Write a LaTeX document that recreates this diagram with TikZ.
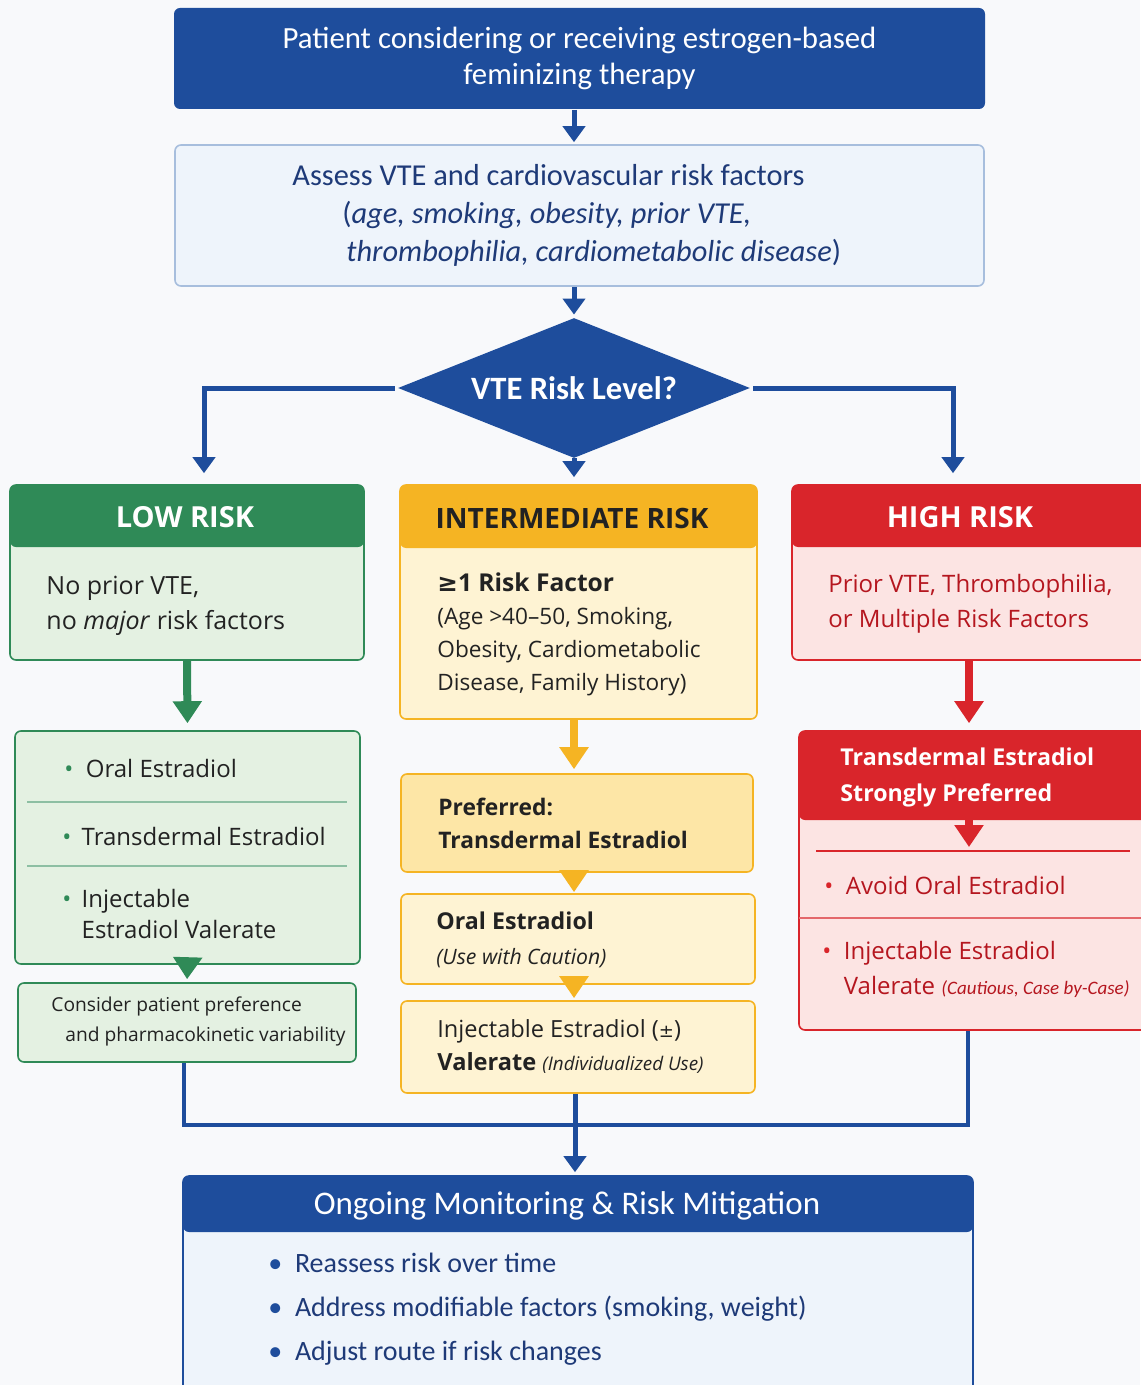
\documentclass[tikz,border=0pt]{standalone}
\usepackage{fontspec}
\usepackage{xcolor}
\setmainfont{Open Sans}
\newfontfamily\condfont{Carlito}
\newfontfamily\symfont{DejaVu Sans}
\usetikzlibrary{shapes.geometric}
\usetikzlibrary{positioning, arrows.meta}

\definecolor{pagebg}{HTML}{F8F9FB}
\definecolor{navy}{HTML}{1E4D9C}
\definecolor{bluetext}{HTML}{1E3A78}
\definecolor{assessfill}{HTML}{EEF4FB}
\definecolor{assessline}{HTML}{A7BEDD}
\definecolor{lowgreen}{HTML}{2F8A57}
\definecolor{lowfill}{HTML}{E4F1E2}
\definecolor{intorange}{HTML}{F5B423}
\definecolor{intfill}{HTML}{FEF3D3}
\definecolor{preffill}{HTML}{FDE6A6}
\definecolor{highred}{HTML}{D9252B}
\definecolor{highfill}{HTML}{FCE4E3}
\definecolor{redtext}{HTML}{B5161F}
\definecolor{darktext}{HTML}{222222}

\newcommand{\gbul}{\textcolor{lowgreen}{\textbullet}}
\newcommand{\rbul}{\textcolor{highred}{\textbullet}}
\newcommand{\bbul}{\textcolor{navy}{\textbullet}}

\begin{document}
\begin{tikzpicture}[x=0.5pt, y=-0.5pt,
    box/.style={rectangle, rounded corners=3pt, inner sep=0pt, line width=0.8pt},
    headbox/.style n args={3}{box, draw=#1, fill=#2,
        path picture={\fill[#1] (path picture bounding box.north west) rectangle ([yshift=-#3]path picture bounding box.north east);}},
    headtxt/.style={inner sep=0pt, text=white, font=\fontsize{14.5}{17}\selectfont\bfseries},
    bodytxt/.style={inner sep=0pt, anchor=west, align=left, text=darktext, font=\fontsize{12}{17.5}\selectfont},
    bluearr/.style={draw=navy, line width=2.5pt, -{Triangle[width=11pt, length=8pt]}},
    blueline/.style={draw=navy, line width=2pt},
    greenarr/.style={draw=lowgreen, line width=4pt, -{Triangle[width=14pt, length=11pt]}},
    orangearr/.style={draw=intorange, line width=4pt, -{Triangle[width=14pt, length=11pt]}},
    redarr/.style={draw=highred, line width=4pt, -{Triangle[width=14pt, length=11pt]}}]

    % Background
    \fill[pagebg] (0,0) rectangle (1140,1385);
    \useasboundingbox (0,0) rectangle (1140,1385);

    % Nodes
    \node[box, fill=navy, minimum width=405.5pt, minimum height=50.5pt, text=white, align=center,
          font=\condfont\fontsize{15.4}{18}\selectfont] (start) at (579.5,58.5)
          {Patient considering or receiving estrogen-based\\feminizing therapy};

    \node[box, draw=assessline, fill=assessfill, minimum width=404.5pt, minimum height=70.5pt] (assess) at (579.5,215.5) {};
    \node[bodytxt, text=bluetext, font=\condfont\fontsize{15.2}{19}\selectfont] (assesstxt) at (292,215.5)
          {Assess VTE and cardiovascular risk factors\\
           \hspace*{25pt}(\textit{age, smoking, obesity, prior VTE,}\\
           \hspace*{27pt}\textit{thrombophilia, cardiometabolic disease})};

    \node[diamond, aspect=2.5, fill=navy, minimum width=176pt, minimum height=70pt, inner sep=0pt,
          text=white, font=\condfont\fontsize{16.3}{18}\selectfont\bfseries] (risk) at (574,388) {VTE Risk Level?};

    % Low risk column
    \node[headbox={lowgreen}{lowfill}{31pt}, minimum width=177pt, minimum height=87.5pt] (low) at (187,572.5) {};
    \node[headtxt] (lowtitle) at (185,517) {LOW RISK};
    \node[bodytxt, font=\fontsize{12.5}{17.5}\selectfont] (lowtxt) at (46,605.5) {No prior VTE,\\no \textit{major} risk factors};

    \node[box, draw=lowgreen, fill=lowfill, minimum width=172.5pt, minimum height=116.5pt] (lowlist) at (187.5,847.5) {};
    \node[bodytxt] (lowa) at (64,768) {\gbul\ \ Oral Estradiol};
    \node[bodytxt] (lowb) at (62,836) {\gbul\ \,Transdermal Estradiol};
    \node[bodytxt, font=\fontsize{12}{15.5}\selectfont] (lowc) at (62,913.5) {\gbul\ \,Injectable\\\phantom{\gbul\ \,}Estradiol Valerate};
    \draw[lowgreen!55, line width=0.6pt] (27,802) -- (347,802);
    \draw[lowgreen!55, line width=0.6pt] (27,866) -- (347,866);

    \node[box, draw=lowgreen, fill=lowfill, minimum width=169pt, minimum height=39.5pt] (consider) at (187,1022.5) {};
    \node[bodytxt, font=\fontsize{9.6}{15}\selectfont] (considertxt) at (51,1021)
          {Consider patient preference\\\hspace*{7pt}and pharmacokinetic variability};

    % Intermediate risk column
    \node[headbox={intorange}{intfill}{31.5pt}, minimum width=178.5pt, minimum height=117pt] (int) at (578.5,602) {};
    \node[headtxt, text=darktext, font=\fontsize{14}{17}\selectfont\bfseries] (inttitle) at (572,518) {INTERMEDIATE RISK};
    \node[bodytxt, font=\fontsize{11.3}{16.5}\selectfont] (inttxt) at (437,634)
          {{\fontsize{12.3}{16.5}\selectfont\bfseries{\symfont ≥}1 Risk Factor}\\(Age >40--50, Smoking,\\Obesity, Cardiometabolic\\Disease, Family History)};

    \node[box, draw=intorange, fill=preffill, minimum width=176pt, minimum height=49pt] (pref) at (577,823) {};
    \node[bodytxt, font=\fontsize{11.4}{16.5}\selectfont\bfseries] (preftxt) at (438,823.5) {Preferred:\\Transdermal Estradiol};

    \node[box, draw=intorange, fill=intfill, minimum width=177pt, minimum height=45pt] (oral) at (578,939) {};
    \node[bodytxt] (oraltxt) at (436,940)
          {\textbf{\fontsize{11.6}{15.5}\selectfont Oral Estradiol}\\{\fontsize{10.6}{15.5}\selectfont\textit{(Use with Caution)}}};

    \node[box, draw=intorange, fill=intfill, minimum width=177pt, minimum height=46pt] (inj) at (578,1047) {};
    \node[bodytxt, font=\fontsize{11.8}{16.5}\selectfont] (injtxt) at (437,1046.5)
          {Injectable Estradiol ({\symfont\small ±})\\\textbf{Valerate} {\fontsize{9.4}{10}\selectfont\textit{(Individualized Use)}}};

    % High risk column
    \node[headbox={highred}{highfill}{31pt}, minimum width=178pt, minimum height=87.5pt] (high) at (970,572.5) {};
    \node[headtxt] (hightitle) at (960,517) {HIGH RISK};
    \node[bodytxt, text=redtext] (hightxt) at (828,603.5) {Prior VTE, Thrombophilia,\\or Multiple Risk Factors};

    \node[headbox={highred}{highfill}{44.5pt}, minimum width=175.5pt, minimum height=149.5pt] (highlist) at (974.5,880.5) {};
    \node[bodytxt, text=white, font=\fontsize{11.6}{18}\selectfont\bfseries] (hlhead) at (840,777)
          {Transdermal Estradiol\\Strongly Preferred};
    \coordinate (hltop) at (969,818);
    \coordinate (hlsep) at (969,847);
    \draw[highred, line width=0.6pt] (816,851) -- (1130,851);
    \draw[highred!70, line width=0.8pt] (799,918) -- (1150,918);
    \node[bodytxt, text=redtext] (hla) at (824,885) {\rbul\ \ Avoid Oral Estradiol};
    \node[bodytxt, text=redtext] (hlb) at (822,969.5)
          {\rbul\ \ Injectable Estradiol\\\phantom{\rbul\ \ }Valerate {\condfont\fontsize{9.5}{10}\selectfont\itshape(Cautious, Case by-Case)}};

    % Monitoring
    \node[headbox={navy}{assessfill}{28pt}, minimum width=395pt, minimum height=112pt] (monitor) at (578,1288) {};
    \node[inner sep=0pt, text=white, font=\condfont\fontsize{16.5}{19}\selectfont] (montitle) at (567,1206)
          {Ongoing Monitoring \& Risk Mitigation};
    \node[bodytxt, text=bluetext, font=\condfont\fontsize{14}{22}\selectfont] (montxt) at (268,1309)
          {\bbul\ \ Reassess risk over time\\\bbul\ \ Address modifiable factors (smoking, weight)\\\bbul\ \ Adjust route if risk changes};

    % Edges
    \draw[bluearr, shorten >=1pt] (start.south -| risk) -- (assess.north -| risk);
    \draw[bluearr, shorten >=1.5pt] (assess.south -| risk) -- (risk.north);
    \draw[bluearr, shorten >=5.5pt] ([xshift=-1.5pt]risk.west) -| ([xshift=8.5pt]low.north);
    \draw[bluearr, shorten >=5.5pt] ([xshift=1.5pt]risk.east) -| ([xshift=-8.5pt]high.north);
    \draw[bluearr, shorten >=3.5pt] (risk.south) -- (risk.south |- int.north);

    \draw[greenarr, shorten >=3.5pt] (low.south) -- (lowlist.north);
    \draw[greenarr, shorten >=1.5pt] (lowlist.south) -- (consider.north);

    \draw[orangearr, shorten >=2pt] (int.south -| risk) -- (pref.north -| risk);
    \draw[orangearr, shorten >=0.5pt] (pref.south -| risk) -- (oral.north -| risk);
    \draw[orangearr, shorten >=1pt] (oral.south -| risk) -- (inj.north -| risk);

    \draw[redarr, shorten >=3.5pt] ([xshift=-0.5pt]high.south) -- ([xshift=-0.5pt]high.south |- highlist.north);
    \draw[redarr] (hltop) -- (hlsep);

    \coordinate (join) at (575,1125);
    \draw[blueline] (consider.south -| 184,0) |- (join);
    \draw[blueline] (highlist.south -| 968,0) |- (join);
    \draw[bluearr, shorten >=1.5pt] (inj.south -| join) -- (monitor.north -| join);

\end{tikzpicture}
\end{document}
